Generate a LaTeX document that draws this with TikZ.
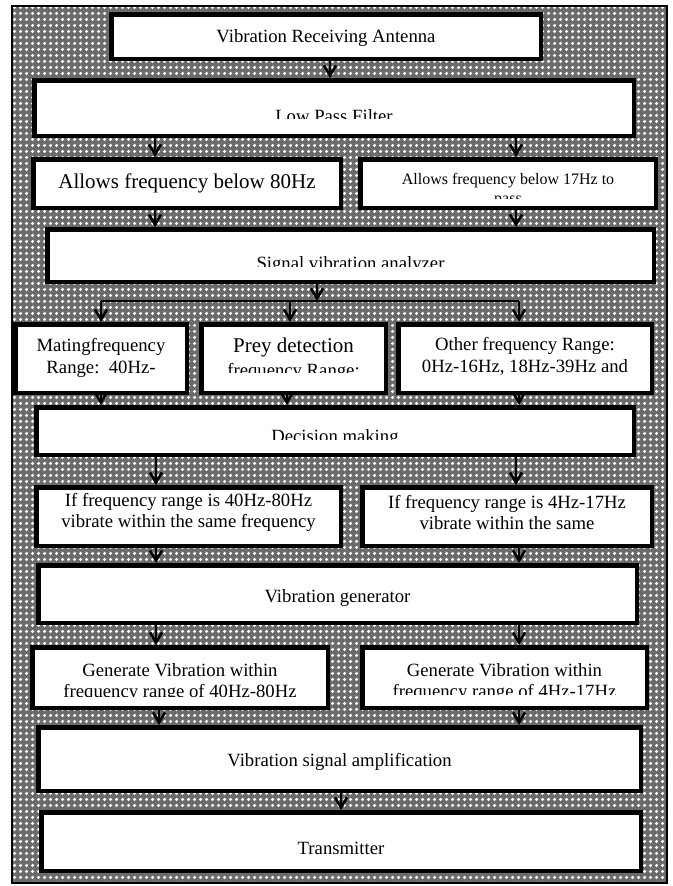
\documentclass[tikz,border=0pt]{standalone}
\usepackage{fontspec}
\setmainfont{Liberation Serif}
\usetikzlibrary{arrows.meta,patterns.meta}

\tikzdeclarepattern{
  name=meshDots,
  type=uncolored,
  bounding box={(0pt,0pt) and (6pt,6pt)},
  tile size={(6pt,6pt)},
  code={
    \fill (3pt,1pt) -- (5pt,3pt) -- (3pt,5pt) -- (1pt,3pt) -- cycle;
  }
}

\begin{document}
\begin{tikzpicture}[x=1pt, y=-1pt]
        \tikzstyle{boxStyle} = [rectangle,draw=black,fill=white,line width=4.5pt,inner sep=0pt]
        \tikzstyle{textStyle} = [inner sep=0pt,align=center,font=\fontsize{18.7}{21.5}\selectfont]
        \tikzstyle{bigText} = [textStyle,font=\fontsize{21}{24}\selectfont]
        \tikzstyle{smallText} = [textStyle,font=\fontsize{16}{19}\selectfont]
        \tikzstyle{arrowEdge} = [draw=black, line width=1.2pt,
            -{Straight Barb[length=10pt,width=12pt,line width=2.6pt]}]
        \useasboundingbox (0,0) rectangle (672,886);
        % hatched background
        \draw[line width=1.5pt, preaction={fill=black!58},
            pattern=meshDots, pattern color=white] (12,6) rectangle (667,883);
        % boxes
        \node[boxStyle, minimum width=429.5pt, minimum height=44.5pt] (antenna) at (326,36.5) {};
        \node[boxStyle, minimum width=599.5pt, minimum height=55.5pt] (filter) at (334,108) {};
        \node[boxStyle, minimum width=307.5pt, minimum height=48.5pt] (below80) at (187,183.5) {};
        \node[boxStyle, minimum width=295.5pt, minimum height=48.5pt] (below17) at (508,183.5) {};
        \node[boxStyle, minimum width=606.5pt, minimum height=52.5pt] (analyzer) at (350.5,255.5) {};
        \node[boxStyle, minimum width=171.5pt, minimum height=68.5pt] (mating) at (101,358.5) {};
        \node[boxStyle, minimum width=184.5pt, minimum height=68.5pt] (prey) at (293.5,358.5) {};
        \node[boxStyle, minimum width=253.5pt, minimum height=68.5pt] (other) at (525,358.5) {};
        \node[boxStyle, minimum width=597.5pt, minimum height=47.5pt] (decision) at (335,431) {};
        \node[boxStyle, minimum width=304.5pt, minimum height=58.5pt] (range40) at (188.5,516.5) {};
        \node[boxStyle, minimum width=289.5pt, minimum height=58.5pt] (range4) at (507,516.5) {};
        \node[boxStyle, minimum width=598.5pt, minimum height=57.5pt] (generator) at (337.5,594) {};
        \node[boxStyle, minimum width=295.5pt, minimum height=60.5pt] (gen40) at (180,677.5) {};
        \node[boxStyle, minimum width=284.5pt, minimum height=60.5pt] (gen4) at (504.5,677.5) {};
        \node[boxStyle, minimum width=602.5pt, minimum height=63.5pt] (amplifier) at (339.5,759) {};
        \node[boxStyle, minimum width=599.5pt, minimum height=58.5pt] (transmitter) at (341,841.5) {};
        % texts
        \node[textStyle] (antennaText) at (326,38) {Vibration Receiving Antenna};
        \begin{scope}
            \clip (filter.north west) rectangle (filter.east |- 0,118.5);
            \node[textStyle, anchor=base] (filterText) at (334,122) {Low Pass Filter};
        \end{scope}
        \node[bigText] (below80Text) at (187,183) {Allows frequency below 80Hz};
        \begin{scope}
            \clip (below17.north west) rectangle (below17.east |- 0,198.5);
            \node[smallText, anchor=base] (below17Text) at (508,184) {Allows frequency below 17Hz to};
            \node[smallText, anchor=base] (below17More) at (508,203) {pass};
        \end{scope}
        \begin{scope}
            \clip (analyzer.north west) rectangle (analyzer.east |- 0,266.5);
            \node[textStyle, anchor=base] (analyzerText) at (350.5,269.5) {Signal vibration analyzer};
        \end{scope}
        \node[textStyle] (matingText) at (101,358) {Matingfrequency\\Range:\ \ 40Hz-};
        \begin{scope}
            \clip (prey.north west) rectangle (prey.east |- 0,372.5);
            \node[bigText, anchor=base] (preyText) at (293.5,352.5) {Prey detection};
            \node[textStyle, anchor=base] (preyRange) at (293.5,376) {frequency Range:};
        \end{scope}
        \node[textStyle] (otherText) at (525,356.5) {Other frequency Range:\\0Hz-16Hz, 18Hz-39Hz and};
        \begin{scope}
            \clip (decision.north west) rectangle (decision.east |- 0,439);
            \node[textStyle, anchor=base] (decisionText) at (335,442.5) {Decision making};
        \end{scope}
        \node[textStyle] (range40Text) at (188.5,512.5) {If frequency range is 40Hz-80Hz\\vibrate within the same frequency};
        \node[textStyle] (range4Text) at (507,512.5) {If frequency range is 4Hz-17Hz\\vibrate within the same};
        \node[textStyle] (generatorText) at (337.5,598) {Vibration generator};
        \begin{scope}
            \clip (gen40.north west) rectangle (gen40.east |- 0,696.5);
            \node[textStyle, anchor=base] (gen40Text) at (180,676) {Generate Vibration within};
            \node[textStyle, anchor=base] (gen40Range) at (180,697.5) {frequency range of 40Hz-80Hz};
        \end{scope}
        \begin{scope}
            \clip (gen4.north west) rectangle (gen4.east |- 0,694);
            \node[textStyle, anchor=base] (gen4Text) at (504.5,676) {Generate Vibration within};
            \node[textStyle, anchor=base] (gen4Range) at (504.5,697.5) {frequency range of 4Hz-17Hz};
        \end{scope}
        \node[textStyle] (amplifierText) at (339.5,762) {Vibration signal amplification};
        \node[textStyle] (transmitterText) at (341,848) {Transmitter};
        % connectors
        \coordinate (split) at (317,301);
        \coordinate (splitL) at (101,301);
        \coordinate (splitM) at (290,301);
        \coordinate (splitR) at (519,301);
        \draw[arrowEdge] (analyzer.south -| split) -- (split);
        \draw[line width=1.2pt] (splitL) -- (splitR);
        \foreach \from/\to in {splitL/mating, splitM/prey, splitR/other}
            \draw[arrowEdge] (\from) -- (\to.north -| \from);
        \foreach \from/\to/\xx in {antenna/filter/330, filter/below80/155, filter/below17/516,
                               below80/analyzer/155, below17/analyzer/516,
                               mating/decision/101, prey/decision/287, other/decision/519,
                               decision/range40/156, decision/range4/516,
                               range40/generator/156, range4/generator/519,
                               generator/gen40/156, generator/gen4/519,
                               gen40/amplifier/159, gen4/amplifier/519,
                               amplifier/transmitter/341}
            \draw[arrowEdge] (\from.south -| \xx,0) -- (\to.north -| \xx,0);
\end{tikzpicture}
\end{document}
